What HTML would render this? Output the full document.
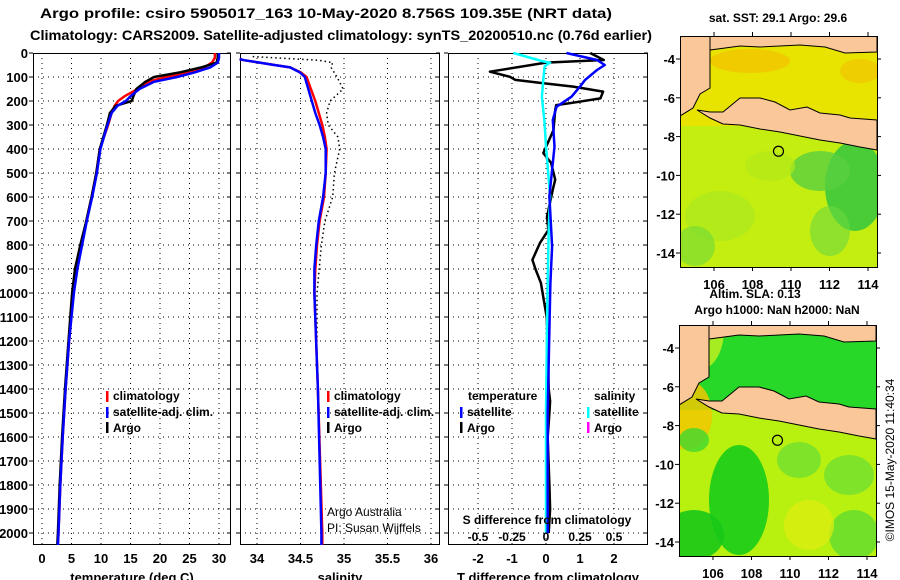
<!DOCTYPE html>
<html><head><meta charset="utf-8">
<style>
html,body{margin:0;padding:0;background:#fff;width:900px;height:580px;overflow:hidden}
svg{display:block;font-family:"Liberation Sans",Arial,sans-serif}
.b{font-weight:bold}
</style></head>
<body>
<svg id="fig" width="900" height="580" viewBox="0 0 900 580" xmlns="http://www.w3.org/2000/svg">
<defs>
<clipPath id="clip1"><rect x="680" y="36" width="198" height="232"/></clipPath>
<clipPath id="clip2"><rect x="679" y="325" width="198" height="232"/></clipPath>
</defs>
<text x="40" y="18" class="b" font-size="14" textLength="572" lengthAdjust="spacingAndGlyphs">Argo profile: csiro 5905017_163 10-May-2020 8.756S 109.35E (NRT data)</text>
<text x="30" y="40" class="b" font-size="14" textLength="622" lengthAdjust="spacingAndGlyphs">Climatology: CARS2009. Satellite-adjusted climatology: synTS_20200510.nc (0.76d earlier)</text>
<g id="plots"></g>
<g id="maps"></g>
</svg>
<script>
// ---------- data ----------
const depthTicks = [0,100,200,300,400,500,600,700,800,900,1000,1100,1200,1300,1400,1500,1600,1700,1800,1900,2000];
const tempTicks = [0,5,10,15,20,25,30];
const salTicks = [34,34.5,35,35.5,36];
const tdTicks = [-2,-1,0,1,2];
const sdTicks = [-0.5,-0.25,0,0.25,0.5];

const tempDepth = [0,20,40,60,80,100,120,150,180,200,220,250,300,400,500,600,700,800,900,1000,1200,1400,1600,1800,2000,2050];
const tempArgo = [29.8,29.8,29.6,27,23.5,19,17.5,16,15.5,15.2,12.5,11.5,11,9.8,9.2,8.4,7.5,6.5,5.6,5.1,4.5,3.9,3.4,3.0,2.7,2.6];
const tempClim = [29.3,29.3,28.8,27.5,25,21,18,16.2,14,12.9,12.3,11.8,11.2,9.8,9.2,8.4,7.5,6.7,5.9,5.3,4.6,4.0,3.5,3.1,2.8,2.7];
const tempSat = [30,30,29.8,28.5,26,22.9,19,16.5,15,14.2,12.8,11.8,11.1,9.9,9.3,8.5,7.6,6.8,6.0,5.4,4.6,4.0,3.5,3.1,2.8,2.7];

const salDepth = [25,30,40,50,60,80,100,150,200,250,300,350,400,500,600,700,800,900,1000,1400,2000,2050];
const salSat = [33.8,33.85,34.03,34.2,34.38,34.49,34.55,34.59,34.63,34.67,34.72,34.76,34.79,34.79,34.76,34.71,34.68,34.66,34.66,34.70,34.74,34.74];
const salClim = [33.8,33.85,34.03,34.2,34.38,34.5,34.57,34.62,34.67,34.71,34.75,34.78,34.80,34.79,34.77,34.72,34.69,34.67,34.66,34.70,34.75,34.75];
const salArgoDepth = [15,30,40,60,100,150,200,250,300,350,400,500,600,700,800,1000,1200];
const salArgo = [33.95,34.7,34.87,34.85,34.92,34.99,34.84,34.80,34.82,34.93,34.95,34.89,34.87,34.78,34.74,34.69,34.69];

const tdArgoDepth = [0,29,40,78,99,112,124,140,161,189,207,217,237,321,417,458,528,569,682,737,792,862,904,958,1042,1100,1200,1400,1450,1500,1600,1800,1900,2000];
const tdArgo = [1.3,1.7,0,-1.65,-1.06,-0.9,-0.2,0.8,1.68,1.6,0.8,0.3,0.27,0.22,-0.08,0.15,0.27,0.2,0.03,0.07,-0.18,-0.4,-0.3,-0.15,-0.05,0.02,0.05,0.08,0.12,0.1,0.05,0.1,0.12,0.08];
const tdSatDepth = [0,29,50,71,112,140,182,224,279,390,458,597,806,958,1150,1500,2000];
const tdSat = [0.6,1.5,1.73,1.5,1.15,1.0,0.75,0.31,0.2,0.25,0.2,0.1,0.18,0.13,0.1,0.05,0.05];
const sdDepth = [0,35,40,56,112,182,293,390,458,597,737,1014,1500,2000];
const sdSat = [-0.24,-0.02,0.03,-0.01,-0.02,-0.03,-0.01,0,0.01,0.03,0.02,0.01,0,0];

const latTicks = [-4,-6,-8,-10,-12,-14];
const lonTicks = [106,108,110,112,114];
const floatLon = 109.35, floatLat = -8.756;

// ---------- helpers ----------
const NS = 'http://www.w3.org/2000/svg';
function mk(tag, attrs, parent){const e=document.createElementNS(NS,tag);for(const k in attrs)e.setAttribute(k,attrs[k]);parent.appendChild(e);return e;}
const P = document.getElementById('plots');
const yD = d => 53 + d*0.24;
const TOP = 53, BOT = 545;

function panel(name, x0, x1, xfun, ticks, labels, title){
  const g = mk('g',{},P);
  
  
  depthTicks.forEach(d=>{ if(d>0){const l=mk('line',{x1:x0,x2:x1,y1:yD(d),y2:yD(d),stroke:'#000','stroke-width':1,'stroke-dasharray':'1,4'},g);
    
    }
    mk('line',{x1:x0-4,x2:x0,y1:yD(d),y2:yD(d),stroke:'#000'},g);
    mk('line',{x1:x1-4,x2:x1,y1:yD(d),y2:yD(d),stroke:'#000'},g);
  });
  ticks.forEach((t,i)=>{const x=xfun(t);
    const l=mk('line',{x1:x,x2:x,y1:TOP,y2:BOT,stroke:'#000','stroke-width':1,'stroke-dasharray':'1,4'},g);
    
    
    const tx=mk('text',{x:x,y:563,'text-anchor':'middle','font-size':13,'class':'b'},g);
    tx.textContent=labels[i];
    
    
  });
  const fr=mk('rect',{x:x0+0.5,y:TOP+0.5,width:x1-x0-1,height:BOT-TOP-1,fill:'none',stroke:'#000','stroke-width':1},g);
  
  
  const at=mk('text',{x:(x0+x1)/2,y:582,'text-anchor':'middle','font-size':13,'class':'b'},g);
  at.textContent=title;
  
  
  return g;
}
function line(g, depths, vals, xfun, color, w, name, dash){
  const pts = depths.map((d,i)=>xfun(vals[i]).toFixed(1)+','+yD(d).toFixed(1)).join(' ');
  const a={points:pts,fill:'none',stroke:color,'stroke-width':w,'stroke-linejoin':'round'};
  if(dash)a['stroke-dasharray']=dash;
  const e=mk('polyline',a,g);
  
  
}
function txt(g,x,y,s,size,name,anchor,extra){
  const a={x:x,y:y,'font-size':size,'class':'b'}; if(anchor)a['text-anchor']=anchor;
  if(extra)for(const k in extra)a[k]=extra[k];
  const t=mk('text',a,g); t.textContent=s;
  
  
  return t;
}
function mark(g,x,y,color,name){
  const r=mk('rect',{x:x,y:y-11,width:2.5,height:11,fill:color},g);
  
  
}

depthTicks.forEach(d=>{
  txt(P,28,yD(d)+5,String(d),13,'y-tick-label','end');
});

// ---------- panel 1: temperature ----------
const xT = t => 42 + t*5.9;
const g1 = panel('temperature-panel',33,231,xT,tempTicks,tempTicks.map(String),'temperature (deg C)');
line(g1,tempDepth,tempClim,xT,'#ff0000',2.5,'temp-climatology-line');
line(g1,tempDepth,tempArgo,xT,'#000000',2.5,'temp-argo-line');
line(g1,tempDepth,tempSat,xT,'#0000ff',2.5,'temp-satellite-line');
mark(g1,106,402,'#ff0000','legend-climatology-marker'); txt(g1,113,400,'climatology',12,'legend-climatology');
mark(g1,106,418,'#0000ff','legend-satellite-marker'); txt(g1,113,416,'satellite-adj. clim.',12,'legend-satellite-adj');
mark(g1,106,433,'#000','legend-argo-marker'); txt(g1,113,432,'Argo',12,'legend-argo');

// ---------- panel 2: salinity ----------
const xS = s => 257 + (s-34)*87;
const g2 = panel('salinity-panel',240,440,xS,salTicks,['34','34.5','35','35.5','36'],'salinity');
line(g2,salArgoDepth,salArgo,xS,'#000',1.5,'sal-argo-line','1.5,3');
line(g2,salDepth,salClim,xS,'#ff0000',2.5,'sal-climatology-line');
line(g2,salDepth,salSat,xS,'#0000ff',2.5,'sal-satellite-line');
mark(g2,327,402,'#ff0000','legend-climatology-marker'); txt(g2,334,400,'climatology',12,'legend-climatology');
mark(g2,327,418,'#0000ff','legend-satellite-marker'); txt(g2,334,416,'satellite-adj. clim.',12,'legend-satellite-adj');
mark(g2,327,433,'#000','legend-argo-marker'); txt(g2,334,432,'Argo',12,'legend-argo');
const ag=txt(g2,327,516,'Argo Australia',12,'credit-argo-australia'); ag.setAttribute('class','');
const pi=txt(g2,327,532,'PI: Susan Wijffels',12,'credit-pi'); pi.setAttribute('class','');

// ---------- panel 3: differences ----------
const xD = t => 546 + t*34;
const xSD = s => 546 + s*136;
const g3 = panel('difference-panel',448,648,xD,tdTicks,tdTicks.map(String),'T difference from climatology');
line(g3,tdArgoDepth,tdArgo,xD,'#000',2.5,'tdiff-argo-line');
line(g3,sdDepth,sdSat,xSD,'#00ffff',2.5,'sdiff-satellite-line');
line(g3,tdSatDepth,tdSat,xD,'#0000ff',2.5,'tdiff-satellite-line');
txt(g3,468,400,'temperature',12,'legend-temperature-header');
mark(g3,460,418,'#0000ff','legend-t-satellite-marker'); txt(g3,467,416,'satellite',12,'legend-t-satellite');
mark(g3,460,433,'#000','legend-t-argo-marker'); txt(g3,467,432,'Argo',12,'legend-t-argo');
txt(g3,594,400,'salinity',12,'legend-salinity-header');
mark(g3,587,418,'#00ffff','legend-s-satellite-marker'); txt(g3,594,416,'satellite',12,'legend-s-satellite');
mark(g3,587,433,'#ff00ff','legend-s-argo-marker'); txt(g3,594,432,'Argo',12,'legend-s-argo');
txt(g3,547,524,'S difference from climatology',12,'s-axis-title','middle');
sdTicks.forEach((s,i)=>{txt(g3,xSD(s),541,['-0.5','-0.25','0','0.25','0.5'][i],12,'s-tick-label','middle');});

// ---------- maps ----------
const M = document.getElementById('maps');
function map(name, x0, y0, clip, colorsFn){
  const g=mk('g',{},M);
  
  
  const w=197, h=231;
  const lonX = lon => x0 + 34 + (lon-106)*19.25;
  const latY = lat => y0 + 23 + (-4-lat)*19.4;
  const inner=mk('g',{'clip-path':'url(#'+clip+')'},g);
  colorsFn(inner,x0,y0,w,h);
  const land=[
    [[0,0],[30,0],[30,52],[20,58],[13,72],[0,80]],
    [[30,0],[197,0],[197,16],[165,17],[145,11],[120,9],[80,11],[60,10],[30,14]],
    [[17,74],[30,76],[43,76],[60,62],[80,62],[95,66],[110,74],[127,71],[140,77],[160,79],[170,82],[197,84],[197,114],[180,111],[160,107],[140,104],[120,100],[100,96],[80,93],[60,89],[43,88],[30,82]]
  ];
  land.forEach(poly=>{
    const p=mk('polygon',{points:poly.map(q=>(x0+q[0])+','+(y0+q[1])).join(' '),fill:'#fac898',stroke:'#000','stroke-width':1},inner);
    
    
  });
  const c=mk('circle',{cx:lonX(floatLon),cy:latY(floatLat),r:5,fill:'none',stroke:'#000','stroke-width':1.2},g);
  
  
  const fr=mk('rect',{x:x0+0.5,y:y0+0.5,width:w,height:h,fill:'none',stroke:'#000'},g);
  
  
  latTicks.forEach(l=>{const y=latY(l);
    mk('line',{x1:x0-4,x2:x0,y1:y,y2:y,stroke:'#000'},g);
    mk('line',{x1:x0+w,x2:x0+w+4,y1:y,y2:y,stroke:'#000'},g);
    txt(g,x0-5,y+5,String(l),13,'lat-tick-label','end');
  });
  lonTicks.forEach(l=>{const x=lonX(l);
    mk('line',{x1:x,x2:x,y1:y0+h,y2:y0+h+4,stroke:'#000'},g);
    mk('line',{x1:x,x2:x,y1:y0-4,y2:y0,stroke:'#000'},g);
    txt(g,x,y0+h+22,String(l),13,'lon-tick-label','middle');
  });
  return g;
}
function blob(g,cx,cy,rx,ry,col,op){mk('ellipse',{cx:cx,cy:cy,rx:rx,ry:ry,fill:col,'fill-opacity':op||1},g);}
map('sst-map',680,36,'clip1',(g,x,y,w,h)=>{
  mk('rect',{x:x,y:y,width:w,height:h,fill:'#c4ee10'},g);
  mk('rect',{x:x,y:y,width:w,height:90,fill:'#e8e400'},g);
  blob(g,x+70,y+25,40,12,'#f2c000',0.7);
  blob(g,x+180,y+35,20,12,'#f2c000',0.6);
  blob(g,x+175,y+150,30,45,'#3cc83c',0.9);
  blob(g,x+140,y+135,30,20,'#5ad040',0.8);
  blob(g,x+150,y+195,20,25,'#6cd840',0.6);
  blob(g,x+40,y+180,35,25,'#a8e820',0.6);
  blob(g,x+15,y+210,20,20,'#70d838',0.6);
  blob(g,x+90,y+130,25,15,'#b4ea18',0.7);
});
map('altimetry-map',679,325,'clip2',(g,x,y,w,h)=>{
  mk('rect',{x:x,y:y,width:w,height:h,fill:'#b8f010'},g);
  mk('rect',{x:x,y:y,width:w,height:85,fill:'#28d828'},g);
  blob(g,x+20,y+5,25,40,'#b4ee20',0.9);
  blob(g,x+8,y+90,25,35,'#f0c800',0.85);
  blob(g,x+60,y+175,30,55,'#18cc18',0.9);
  blob(g,x+15,y+210,30,25,'#18c818',0.9);
  blob(g,x+15,y+115,15,12,'#40d830',0.8);
  blob(g,x+120,y+135,22,18,'#70e030',0.8);
  blob(g,x+170,y+150,25,20,'#70e030',0.8);
  blob(g,x+175,y+210,25,25,'#60dc30',0.8);
  blob(g,x+130,y+200,25,25,'#e0ee10',0.7);
});
txt(M,778,22,'sat. SST: 29.1  Argo: 29.6',12,'sst-map-title','middle');
txt(M,755,298,'Altim. SLA: 0.13',12,'altimetry-sla-label','middle');
txt(M,777,314,'Argo h1000: NaN h2000: NaN',12,'argo-height-label','middle');
txt(M,0,0,'©IMOS 15-May-2020 11:40:34',12,'timestamp-label','middle',{transform:'translate(894,460) rotate(-90)'}).setAttribute('class','');
</script>
</body></html>
